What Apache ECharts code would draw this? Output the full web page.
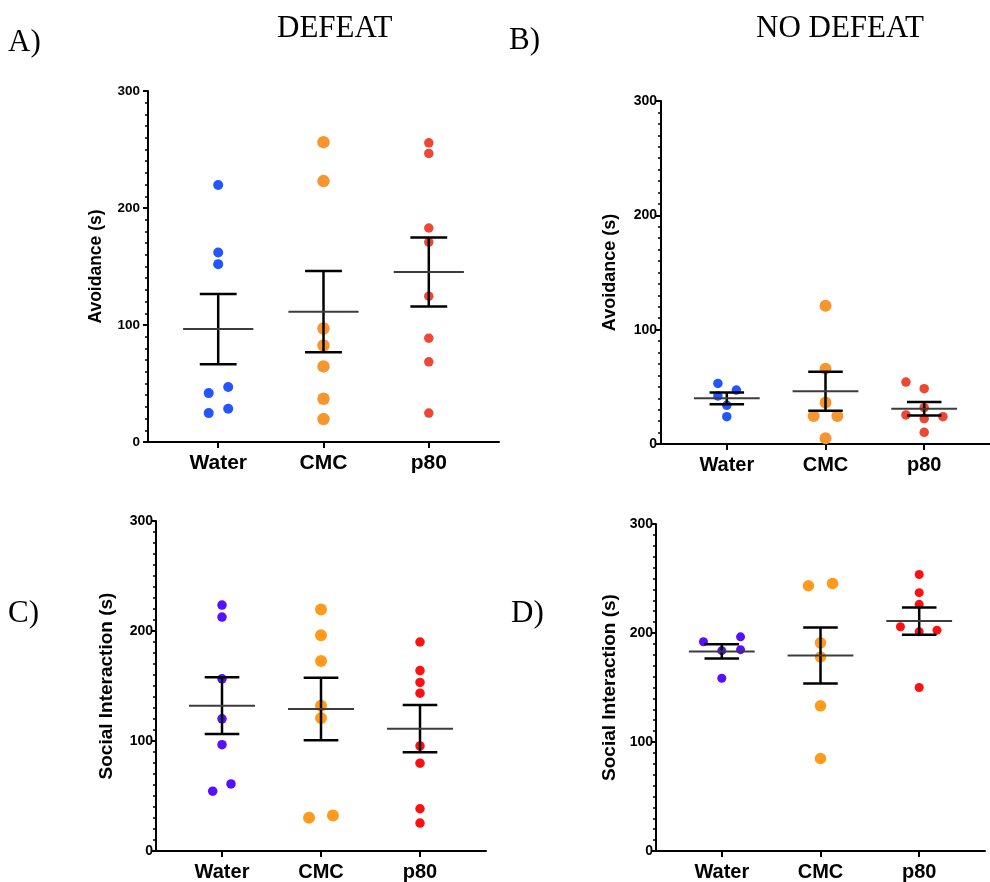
<!DOCTYPE html>
<html>
<head>
<meta charset="utf-8">
<script src="https://cdn.jsdelivr.net/npm/echarts@6/dist/echarts.min.js"></script>
<style>html,body{margin:0;padding:0;background:#fff;}#c{width:990px;height:882px;}</style>
</head>
<body>
<div id="c"></div>
<script>
// ---- data ----
const categories = ['Water', 'CMC', 'p80'];
const yTicks = [0, 100, 200, 300];

// Panel A (DEFEAT, Avoidance)
const A_water = [219.6, 162, 152, 47, 41.8, 28.4, 24.7];
const A_cmc   = [256.3, 223, 97, 82.5, 64.6, 37, 19.6];
const A_p80   = [255.7, 246.6, 182.9, 170.9, 124.6, 88.7, 68.5, 24.7];
// Panel B (NO DEFEAT, Avoidance)
const B_water = [53, 47.2, 42, 33.8, 23.9];
const B_cmc   = [121, 65.9, 36.4, 24.5, 24.5, 5];
const B_p80   = [54.2, 48.4, 31.8, 25.4, 22.2, 23.9, 10.2];
// Panel C (DEFEAT, Social Interaction)
const C_water = [223.6, 212.7, 156.5, 120.2, 96.7, 61, 54.4];
const C_cmc   = [219.6, 196.1, 172.8, 132, 120.8, 30.2, 32.3];
const C_p80   = [190, 164, 153.2, 143.5, 95.5, 79.8, 38.4, 25.4];
// Panel D (NO DEFEAT, Social Interaction)
const D_water = [192, 196.5, 183.8, 184.7, 158.5];
const D_cmc   = [243.4, 245.5, 191, 178, 133.2, 84.9];
const D_p80   = [253.7, 237, 226.3, 205.7, 201.1, 202.6, 150];

// horizontal scatter of the points (in category units)
const A_water_jit = [0, 0, 0, 0.095, -0.09, 0.095, -0.09];
const A_cmc_jit   = [0, 0, 0, 0, 0, 0, 0];
const A_p80_jit   = [0, 0, 0, 0, 0, 0, 0, 0];
const B_water_jit = [-0.09, 0.097, -0.09, 0, 0];
const B_cmc_jit   = [0, 0, 0, -0.12, 0.12, 0];
const B_p80_jit   = [-0.185, 0, 0, -0.185, 0, 0.19, 0];
const C_water_jit = [0, 0, 0, 0, 0, 0.091, -0.094];
const C_cmc_jit   = [0, 0, 0, 0, 0, -0.121, 0.121];
const C_p80_jit   = [0, 0, 0, 0, 0, 0, 0, 0];
const D_water_jit = [-0.186, 0.19, 0, 0.19, 0];
const D_cmc_jit   = [-0.122, 0.122, 0, 0, 0, 0];
const D_p80_jit   = [0, 0, 0, -0.19, 0, 0.18, 0];

// ---- helpers ----
function mean(a){ return a.reduce((s,v)=>s+v,0)/a.length; }
function sem(a){ const m=mean(a); const v=a.reduce((s,x)=>s+(x-m)*(x-m),0)/(a.length-1); return Math.sqrt(v/a.length); }

const panels = [
  {grid:{left:148, top:91, width:351, height:351}, name:'Avoidance (s)', nameSize:17.5, nameGap:43, tickSize:13.5, tickMargin:8, catSize:21,
   groups:[A_water, A_cmc, A_p80], jits:[A_water_jit, A_cmc_jit, A_p80_jit],
   colors:['#2456FF','#F7962E','#EE4835'], sizes:[10, 12.5, 9.5]},
  {grid:{left:661, top:101, width:343, height:343}, name:'Avoidance (s)', nameSize:18, nameGap:42, tickSize:14, tickMargin:4, catSize:20,
   groups:[B_water, B_cmc, B_p80], jits:[B_water_jit, B_cmc_jit, B_p80_jit],
   colors:['#2456FF','#F7962E','#EE4835'], sizes:[9.5, 12, 9.5]},
  {grid:{left:156, top:521, width:330, height:331}, name:'Social Interaction (s)', nameSize:19, nameGap:40, tickSize:14, tickMargin:3, catSize:20,
   groups:[C_water, C_cmc, C_p80], jits:[C_water_jit, C_cmc_jit, C_p80_jit],
   colors:['#5510FF','#FF9A1A','#FF1010'], sizes:[9.5, 12, 9.5]},
  {grid:{left:656, top:524, width:329, height:329}, name:'Social Interaction (s)', nameSize:19, nameGap:37, tickSize:14, tickMargin:3, catSize:20,
   groups:[D_water, D_cmc, D_p80], jits:[D_water_jit, D_cmc_jit, D_p80_jit],
   colors:['#5510FF','#FF9A1A','#FF1010'], sizes:[9, 11.5, 9]}
];

const grids = [], xAxes = [], yAxes = [], series = [];
panels.forEach((p, i) => {
  grids.push(Object.assign({}, p.grid));
  xAxes.push({
    type:'value', gridIndex:i, min:-2/3, max:8/3,
    splitLine:{show:false},
    axisLine:{show:true, onZero:false, lineStyle:{color:'#000', width:2}},
    axisTick:{show:true, customValues:[0,1,2], length:6, lineStyle:{color:'#000', width:2}},
    axisLabel:{show:true, customValues:[0,1,2], formatter:v=>categories[Math.round(v)] || '',
      margin:11, color:'#000', fontFamily:'Liberation Sans, Arial, sans-serif', fontWeight:'bold', fontSize:p.catSize}
  });
  yAxes.push({
    type:'value', gridIndex:i, min:yTicks[0], max:yTicks[yTicks.length-1], interval:100,
    name:p.name, nameLocation:'middle', nameGap:p.nameGap, nameRotate:90,
    nameTextStyle:{color:'#000', fontFamily:'Liberation Sans, Arial, sans-serif', fontWeight:'bold', fontSize:p.nameSize},
    splitLine:{show:false},
    axisLine:{show:true, onZero:false, lineStyle:{color:'#000', width:2}},
    axisTick:{show:true, length:5, lineStyle:{color:'#000', width:2}},
    minorTick:{show:true, splitNumber:10, length:3, lineStyle:{color:'#000', width:1.5}},
    axisLabel:{margin:p.tickMargin, color:'#000', fontFamily:'Liberation Sans, Arial, sans-serif', fontWeight:'bold', fontSize:p.tickSize}
  });
  p.groups.forEach((g, k) => {
    series.push({
      type:'scatter', xAxisIndex:i, yAxisIndex:i, symbol:'circle', symbolSize:p.sizes[k],
      itemStyle:{color:p.colors[k], opacity:1}, z:2,
      data:g.map((v, j) => [k + p.jits[k][j], v])
    });
  });
  series.push({
    type:'custom', xAxisIndex:i, yAxisIndex:i, z:5,
    data:p.groups.map((g, k) => { const m = mean(g), s = sem(g); return [k, m, m - s, m + s]; }),
    renderItem:(params, api) => {
      const x = api.value(0), m = api.value(1), lo = api.value(2), hi = api.value(3);
      const a = api.coord([x - 1/3, m]), b = api.coord([x + 1/3, m]);
      const l0 = api.coord([x - 0.175, lo]), l1 = api.coord([x + 0.175, lo]);
      const h0 = api.coord([x - 0.175, hi]), h1 = api.coord([x + 0.175, hi]);
      const c0 = api.coord([x, lo]), c1 = api.coord([x, hi]);
      const blk = {stroke:'#000', lineWidth:2.5};
      return {type:'group', children:[
        {type:'line', shape:{x1:c0[0], y1:c0[1], x2:c1[0], y2:c1[1]}, style:blk},
        {type:'line', shape:{x1:l0[0], y1:l0[1], x2:l1[0], y2:l1[1]}, style:blk},
        {type:'line', shape:{x1:h0[0], y1:h0[1], x2:h1[0], y2:h1[1]}, style:blk},
        {type:'line', shape:{x1:a[0], y1:a[1], x2:b[0], y2:b[1]}, style:{stroke:'#3c3c3c', lineWidth:2}}
      ]};
    }
  });
});

const serif = 'Liberation Serif, Times New Roman, serif';
function label(text, x, y){
  return {type:'text', left:x, top:y, style:{text:text, fill:'#000', font:'31px ' + serif}};
}

const chart = echarts.init(document.getElementById('c'), null, {renderer:'canvas'});
chart.setOption({
  animation:false,
  backgroundColor:'#fff',
  grid:grids, xAxis:xAxes, yAxis:yAxes, series:series,
  graphic:[
    label('A)', 8, 27),
    label('DEFEAT', 277, 13),
    label('B)', 509, 25),
    label('NO DEFEAT', 756, 13),
    label('C)', 8, 598),
    label('D)', 511, 598)
  ]
});
</script>
</body>
</html>
